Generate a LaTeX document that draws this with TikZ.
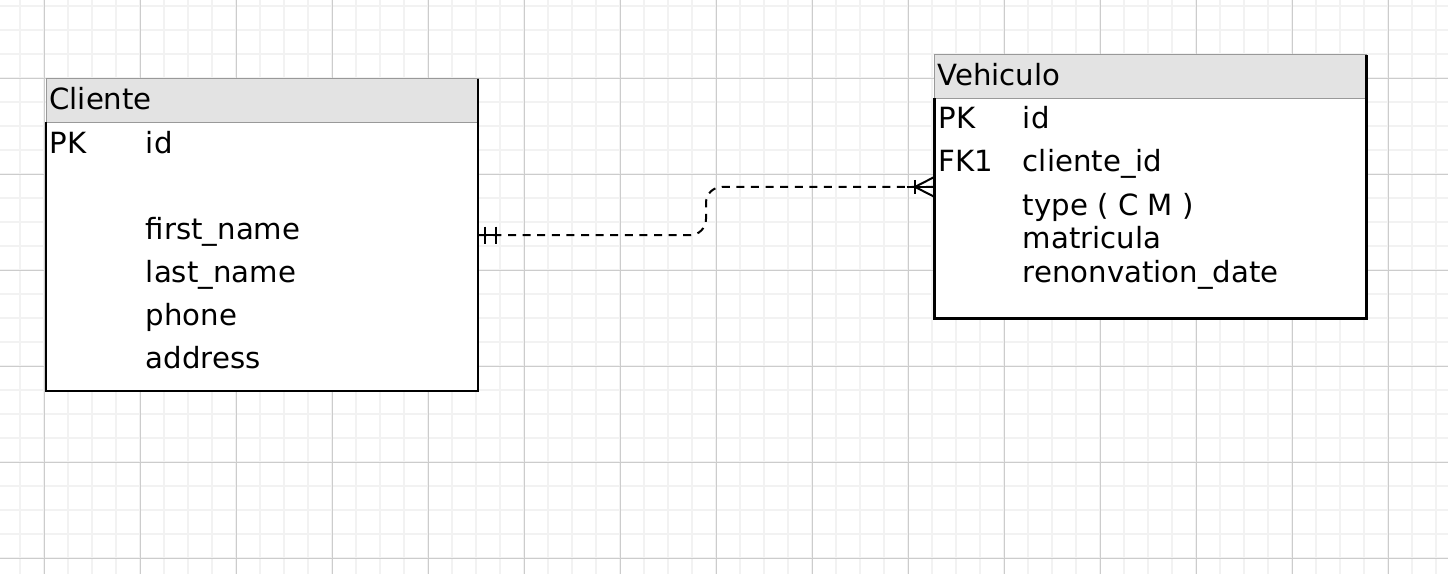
\documentclass[tikz,border=0pt]{standalone}
\usepackage{fontspec}
\setmainfont{DejaVu Sans}
\usetikzlibrary{calc}
\begin{document}
\begin{tikzpicture}[x=0.5pt,y=-0.5pt,
  minorgrid/.style={draw=black!5, line width=1pt},
  majorgrid/.style={draw=black!20, line width=0.5pt},
  tablebox/.style={draw=none, inner sep=0pt, anchor=north west, minimum width=216pt},
  hdr/.style={fill=black!11, draw=black!40, line width=0.5pt},
  border/.style={draw=black, line width=1.15pt},
  txt/.style={anchor=base west, inner sep=0pt, font=\fontsize{14.6}{17}\selectfont},
  rel/.style={draw=black, line width=1pt, dash pattern=on 4pt off 3.3pt, rounded corners=8pt},
  endmark/.style={draw=black, line width=1pt},
]
\useasboundingbox (0,0) rectangle (1448,574);
\fill[white] (0,0) rectangle (1448,574);
% grid
\foreach \x in {20,44,...,1436} \draw[minorgrid] (\x,0) -- (\x,574);
\foreach \y in {6,30,...,558} \draw[minorgrid] (0,\y) -- (1448,\y);
\foreach \x in {44,140,...,1388} \draw[majorgrid] (\x,0) -- (\x,574);
\foreach \y in {78,174,...,558} \draw[majorgrid] (0,\y) -- (1448,\y);

% Cliente table
\node[tablebox, minimum height=156.25pt] (cli) at (46,78.5) {};
\fill[white] (46,78.5) rectangle (478,391);
\draw[hdr] (46,78.5) rectangle (478,122);
\draw[border] (46,122) -- (46,391) -- (478,391) -- (478,78.5);
\node[txt] (cliT) at (49,109.5) {Cliente};
\node[txt] (cliPK) at (49.5,153) {PK};
\node[txt] (cliId) at (145.5,153) {id};
\node[txt] (cliF1) at (145.5,239) {first\_name};
\node[txt] (cliF2) at (145.5,282) {last\_name};
\node[txt] (cliF3) at (145.5,325) {phone};
\node[txt] (cliF4) at (145.5,368) {address};

% Vehiculo table
\node[tablebox, minimum height=132pt] (veh) at (934.5,54.5) {};
\fill[white] (934.5,54.5) rectangle (1366.5,318.5);
\draw[hdr] (934.5,54.5) rectangle (1366.5,98);
\draw[border] (934.5,98) -- (934.5,318.5) -- (1366.5,318.5) -- (1366.5,54.5);
\node[txt] (vehT) at (937,85) {Vehiculo};
\node[txt] (vehPK) at (938,128.5) {PK};
\node[txt] (vehId) at (1022.5,128.5) {id};
\node[txt] (vehFK) at (938,171.5) {FK1};
\node[txt] (vehCid) at (1022.5,171.5) {cliente\_id};
\node[txt] (vehF1) at (1022.5,215) {type ( C M )};
\node[txt] (vehF2) at (1022.5,248.5) {matricula};
\node[txt] (vehF3) at (1022.5,282) {renonvation\_date};

% relationship
\coordinate (mid) at (706,0);
\draw[rel] (cli.east) -- (cli.east -| mid) -- (veh.west -| mid) -- (veh.west);
% one-and-only-one end at Cliente
\draw[endmark] (cli.east) -- ($(cli.east)+(20,0)$);
\draw[endmark] ($(cli.east)+(6,-8.5)$) -- ($(cli.east)+(6,8.5)$);
\draw[endmark] ($(cli.east)+(17,-8.5)$) -- ($(cli.east)+(17,8.5)$);
% one-to-many end at Vehiculo
\draw[endmark] ($(veh.west)+(-28,0)$) -- (veh.west);
\draw[endmark] ($(veh.west)+(-19.5,-7)$) -- ($(veh.west)+(-19.5,7)$);
\draw[endmark] ($(veh.west)+(0,-10)$) -- ($(veh.west)+(-19.5,0)$) -- ($(veh.west)+(0,10)$);
\end{tikzpicture}
\end{document}
